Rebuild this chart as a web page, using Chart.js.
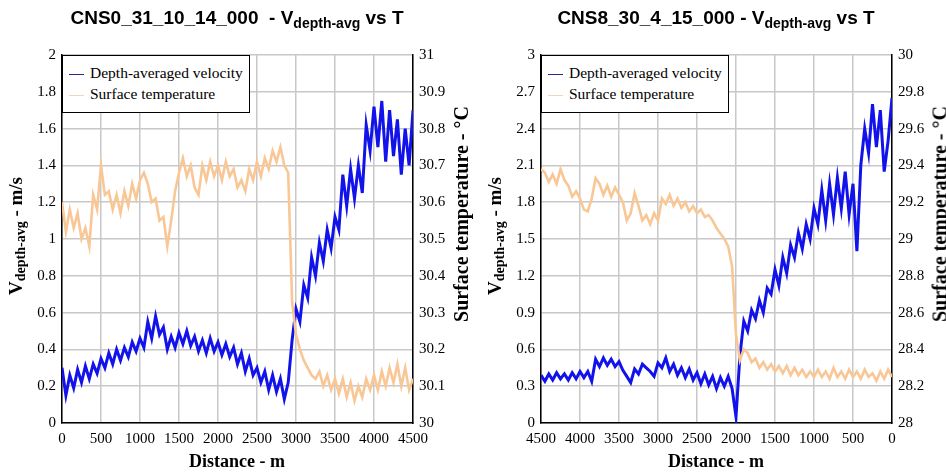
<!DOCTYPE html>
<html>
<head>
<meta charset="utf-8">
<script src="https://cdn.jsdelivr.net/npm/chart.js@4/dist/chart.umd.min.js"></script>
<style>
  body { margin: 0; background: #fff; }
  #wrap { position: relative; width: 946px; height: 472px; overflow: hidden; }
  .panel { position: absolute; top: 0; width: 473px; height: 472px; }
  .title { position: absolute; top: 7px; font: bold 19px "Liberation Sans", Arial, sans-serif; white-space: nowrap; transform: translateX(-50%); }
  .title sub { font-size: 14px; vertical-align: -4px; }
  .ytitle { position: absolute; font: bold 19px "Liberation Serif", "Times New Roman", serif; white-space: nowrap; transform: translate(-50%, -50%) rotate(-90deg); }
  .ytitle sub { font-size: 14px; vertical-align: -3px; }
  .ytitle.big { font-size: 20px; }
  .xtitle { position: absolute; top: 451px; font: bold 18px "Liberation Serif", "Times New Roman", serif; white-space: nowrap; transform: translateX(-50%); }
  .legend { position: absolute; top: 55px; width: 186px; height: 56px; background: #fff; border: 1.5px solid #000; font: 15.5px "Liberation Serif", "Times New Roman", serif; }
  .legend div { position: absolute; left: 6px; white-space: nowrap; }
  .legend span { display: inline-block; width: 15px; height: 0; border-top: 1.5px solid; vertical-align: middle; margin-right: 6px; }
  canvas { position: absolute; left: 0; top: 0; }
</style>
</head>
<body>
<div id="wrap">
  <div class="panel" style="left:0">
    <canvas id="c1" width="473" height="472"></canvas>
    <div class="title" style="left:237px">CNS0_31_10_14_000&nbsp; - V<sub>depth-avg</sub> vs T</div>
    <div class="ytitle" style="left:17px;top:236px">V<sub>depth-avg</sub> - m/s</div>
    <div class="ytitle big" style="left:461px;top:214px">Surface temperature - °C</div>
    <div class="xtitle" style="left:237px">Distance - m</div>
    <div class="legend" style="left:62px">
      <div style="top:8px"><span style="border-color:#2a2a8a"></span>Depth-averaged velocity</div>
      <div style="top:29px"><span style="border-color:#f3d6b8"></span>Surface temperature</div>
    </div>
  </div>
  <div class="panel" style="left:473px">
    <canvas id="c2" width="473" height="472"></canvas>
    <div class="title" style="left:243px">CNS8_30_4_15_000 - V<sub>depth-avg</sub> vs T</div>
    <div class="ytitle" style="left:23px;top:236px">V<sub>depth-avg</sub> - m/s</div>
    <div class="ytitle big" style="left:467px;top:214px">Surface temperature - °C</div>
    <div class="xtitle" style="left:243px">Distance - m</div>
    <div class="legend" style="left:68px">
      <div style="top:8px"><span style="border-color:#2a2a8a"></span>Depth-averaged velocity</div>
      <div style="top:29px"><span style="border-color:#f3d6b8"></span>Surface temperature</div>
    </div>
  </div>
</div>
<script>
// distance (m), every 50 m
var distance = [];
for (var d = 0; d <= 4500; d += 50) distance.push(d);

// CNS0_31_10_14_000
var velocityA = [0.30,0.15,0.26,0.19,0.29,0.22,0.31,0.24,0.32,0.27,
  0.35,0.30,0.38,0.32,0.40,0.34,0.41,0.36,0.44,0.39,
  0.46,0.41,0.55,0.46,0.58,0.48,0.52,0.40,0.47,0.41,
  0.49,0.43,0.50,0.42,0.47,0.39,0.45,0.38,0.46,0.39,
  0.44,0.37,0.43,0.36,0.41,0.32,0.38,0.28,0.35,0.26,
  0.30,0.22,0.28,0.18,0.26,0.17,0.24,0.13,0.22,0.45,
  0.62,0.55,0.75,0.68,0.90,0.80,0.98,0.88,1.05,0.95,
  1.12,1.05,1.35,1.18,1.38,1.22,1.40,1.25,1.62,1.48,
  1.72,1.50,1.75,1.42,1.70,1.45,1.65,1.35,1.60,1.40,
  1.70];
var temperatureA = [30.60,30.52,30.58,30.53,30.57,30.50,30.53,30.48,30.62,30.58,
  30.70,30.62,30.63,30.58,30.62,30.57,30.63,30.59,30.65,30.61,
  30.66,30.68,30.65,30.60,30.61,30.55,30.56,30.48,30.55,30.63,
  30.68,30.72,30.67,30.70,30.64,30.62,30.70,30.66,30.71,30.67,
  30.70,30.66,30.71,30.67,30.69,30.64,30.66,30.63,30.69,30.66,
  30.71,30.67,30.72,30.69,30.74,30.71,30.75,30.70,30.68,30.33,
  30.24,30.20,30.17,30.15,30.13,30.12,30.14,30.10,30.13,30.09,
  30.12,30.08,30.12,30.07,30.11,30.06,30.10,30.07,30.12,30.09,
  30.13,30.09,30.14,30.10,30.15,30.11,30.16,30.10,30.15,30.09,
  30.12];

// CNS8_30_4_15_000
var velocityB = [2.65,2.30,2.05,2.55,2.25,2.60,2.20,2.40,2.10,1.40,
  1.95,1.70,2.05,1.75,2.00,1.70,1.95,1.65,1.90,1.62,
  1.75,1.50,1.62,1.42,1.55,1.35,1.45,1.22,1.35,1.12,
  1.25,1.05,1.10,0.90,1.00,0.85,0.92,0.75,0.83,0.55,
  0.05,0.28,0.38,0.30,0.37,0.28,0.38,0.31,0.40,0.32,
  0.41,0.35,0.44,0.37,0.45,0.39,0.48,0.42,0.53,0.45,
  0.49,0.38,0.42,0.45,0.48,0.40,0.44,0.33,0.38,0.43,
  0.50,0.46,0.52,0.47,0.53,0.46,0.52,0.34,0.42,0.37,
  0.42,0.36,0.41,0.35,0.40,0.36,0.41,0.35,0.40,0.34,
  0.39];
var temperatureB = [28.25,28.29,28.24,28.28,28.23,28.27,28.25,28.29,28.24,28.28,
  28.25,28.29,28.24,28.28,28.25,28.30,28.24,28.28,28.25,28.29,
  28.25,28.28,28.25,28.29,28.26,28.30,28.26,28.31,28.27,28.31,
  28.28,28.32,28.29,28.33,28.30,28.35,28.33,28.38,28.40,28.34,
  28.48,28.85,28.96,29.00,29.03,29.06,29.10,29.13,29.12,29.16,
  29.14,29.18,29.15,29.20,29.17,29.22,29.18,29.24,29.19,29.22,
  29.10,29.14,29.08,29.13,29.10,29.18,29.25,29.14,29.10,29.20,
  29.24,29.28,29.23,29.29,29.24,29.30,29.33,29.22,29.15,29.16,
  29.22,29.26,29.23,29.29,29.32,29.38,29.30,29.35,29.31,29.36,
  29.38];

var gridColor = '#c8c8c8';
var tickFont = { family: '"Liberation Serif", "Times New Roman", serif', size: 15 };

function pts(xs, ys) {
  return xs.map(function (x, i) { return { x: x, y: ys[i] }; });
}

function fmt(v) { return String(+v.toFixed(2)); }

function makeChart(id, vel, temp, vMax, vStep, tMin, tMax, reverse, leftW) {
  var ctx = document.getElementById(id).getContext('2d');
  return new Chart(ctx, {
    type: 'line',
    data: {
      datasets: [{
        label: 'Depth-averaged velocity',
        data: pts(distance, vel),
        borderColor: '#1212ea',
        borderWidth: 3,
        pointRadius: 0,
        yAxisID: 'y',
        order: 1
      }, {
        label: 'Surface temperature',
        data: pts(distance, temp),
        borderColor: '#f9c796',
        borderWidth: 2.6,
        pointRadius: 0,
        yAxisID: 'y1',
        order: 0
      }]
    },
    options: {
      responsive: false,
      animation: false,
      layout: { padding: { top: 55, right: 0, left: 0, bottom: 0 } },
      plugins: { legend: { display: false }, tooltip: { enabled: false } },
      scales: {
        x: {
          type: 'linear', min: 0, max: 4500, reverse: reverse,
          afterFit: function (s) { s.height = 49; },
          ticks: { stepSize: 500, font: tickFont, color: '#000', padding: 7, maxRotation: 0, callback: fmt },
          grid: { color: gridColor, lineWidth: 1.5, drawTicks: false },
          border: { color: '#000', width: 1.5 }
        },
        y: {
          position: 'left', min: 0, max: vMax,
          afterFit: function (s) { s.width = leftW; },
          ticks: { stepSize: vStep, font: tickFont, color: '#000', padding: 6, callback: fmt },
          grid: { color: gridColor, lineWidth: 1.5, drawTicks: false },
          border: { color: '#000', width: 1.5 }
        },
        y1: {
          position: 'right', min: tMin, max: tMax,
          afterFit: function (s) { s.width = 473 - leftW - 351; },
          ticks: { stepSize: (tMax - tMin) / 10, font: tickFont, color: '#000', padding: 6, callback: fmt },
          grid: { display: false, drawTicks: false },
          border: { color: '#000', width: 1.5 }
        }
      }
    }
  });
}

makeChart('c1', velocityA, temperatureA, 2, 0.2, 30, 31, false, 62);
makeChart('c2', velocityB, temperatureB, 3, 0.3, 28, 30, true, 68);
</script>
</body>
</html>
